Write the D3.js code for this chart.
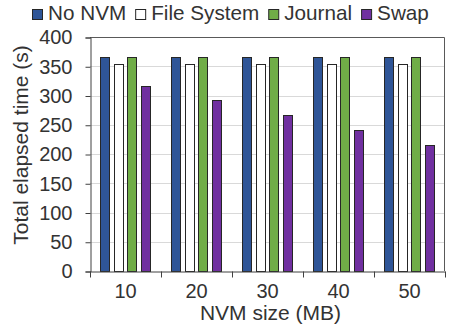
<!DOCTYPE html>
<html>
<head>
<meta charset="utf-8">
<script src="https://cdn.jsdelivr.net/npm/d3@7"></script>
<style>
  body { margin: 0; background: #fff; }
  text { font-family: "Liberation Sans", Arial, sans-serif; fill: #333; }
</style>
</head>
<body>
<svg id="chart" width="449" height="329"></svg>
<script>
const sizes = ["10", "20", "30", "40", "50"]
const seriesNames = ["No NVM", "File System", "Journal", "Swap"]
const noNvm = [366, 366, 366, 366, 366]
const fileSystem = [354, 354, 354, 354, 354]
const journal = [366, 366, 366, 366, 366]
const swap = [317, 292, 266, 241, 215]
const yTicks = [0, 50, 100, 150, 200, 250, 300, 350, 400]
const colors = ["#2f5597", "#ffffff", "#70ad47", "#7030a0"]

const values = [noNvm, fileSystem, journal, swap]
const rows = sizes.map((s, i) => ({size: s, vals: values.map(v => v[i])}))

const margins = {left: 90, right: 4, top: 37, bottom: 58}
const svg = d3.select("#chart")
const W = +svg.attr("width"), H = +svg.attr("height")
const x0 = d3.scaleBand().domain(sizes).range([margins.left, W - margins.right])
const bw = x0.bandwidth()
const x1 = d3.scaleBand().domain(d3.range(4))
  .range([bw * 0.14, bw * 0.86]).paddingInner(0.27)
const y = d3.scaleLinear().domain([0, 400]).range([H - margins.bottom, margins.top])

// gridlines
svg.append("g")
  .selectAll("line")
  .data(yTicks.slice(1, -1))
  .join("line")
  .attr("x1", margins.left).attr("x2", W - margins.right)
  .attr("y1", d => Math.round(y(d)) + 0.5).attr("y2", d => Math.round(y(d)) + 0.5)
  .attr("stroke", "#d9d9d9")

// frame top/right
const yTop = Math.round(y(400)) + 0.5
svg.append("path")
  .attr("d", `M${margins.left},${yTop}H${W - margins.right - 0.5}V${Math.round(y(0))}`)
  .attr("fill", "none").attr("stroke", "#595959")

// bars
svg.append("g")
  .selectAll("g")
  .data(rows)
  .join("g")
  .attr("transform", d => `translate(${x0(d.size)},0)`)
  .selectAll("rect")
  .data(d => d.vals.map((v, i) => ({i, v})))
  .join("rect")
  .attr("x", d => Math.round(x1(d.i)) + 0.5)
  .attr("width", Math.round(x1.bandwidth()) - 1)
  .attr("y", d => Math.round(y(d.v)) + 0.5)
  .attr("height", d => Math.round(y(0)) - Math.round(y(d.v)))
  .attr("fill", d => colors[d.i])
  .attr("stroke", "#262626")
  .attr("stroke-width", 1)

// y axis
const yAxis = svg.append("g")
  .attr("transform", `translate(${margins.left + 0.5},0.5)`)
  .call(d3.axisLeft(y).tickValues(yTicks).tickSize(5).tickPadding(13))
yAxis.select(".domain").attr("stroke", "#404040")
yAxis.selectAll(".tick line").attr("stroke", "#404040")
yAxis.selectAll("text").attr("font-size", 20)

// x axis
const xAxis = svg.append("g")
  .attr("transform", `translate(0,${Math.round(y(0)) + 0.5})`)
  .call(d3.axisBottom(x0).tickSize(0).tickPadding(12))
xAxis.select(".domain").attr("stroke", "#404040")
xAxis.selectAll("text").attr("font-size", 20)
xAxis.selectAll(".sep")
  .data(d3.range(sizes.length + 1))
  .join("line")
  .attr("class", "sep")
  .attr("x1", i => Math.round(margins.left + i * bw) + 0.5)
  .attr("x2", i => Math.round(margins.left + i * bw) + 0.5)
  .attr("y1", 0).attr("y2", 6)
  .attr("stroke", "#404040")

// axis titles
svg.append("text")
  .attr("x", (margins.left + W - margins.right) / 2 + 3)
  .attr("y", 320)
  .attr("text-anchor", "middle")
  .attr("font-size", 21)
  .text("NVM size (MB)")

svg.append("text")
  .attr("transform", "translate(28,145) rotate(-90)")
  .attr("text-anchor", "middle")
  .attr("font-size", 21)
  .text("Total elapsed time (s)")

// legend
const legend = svg.append("g")
let lx = 32
seriesNames.forEach((name, i) => {
  legend.append("rect")
    .attr("x", lx + 0.5).attr("y", 9.5)
    .attr("width", 10).attr("height", 10)
    .attr("fill", colors[i]).attr("stroke", "#262626")
  const t = legend.append("text")
    .attr("x", lx + 16).attr("y", 20)
    .attr("font-size", 20.7)
    .text(name)
  lx += 16 + t.node().getComputedTextLength() + 9
})
</script>
</body>
</html>
